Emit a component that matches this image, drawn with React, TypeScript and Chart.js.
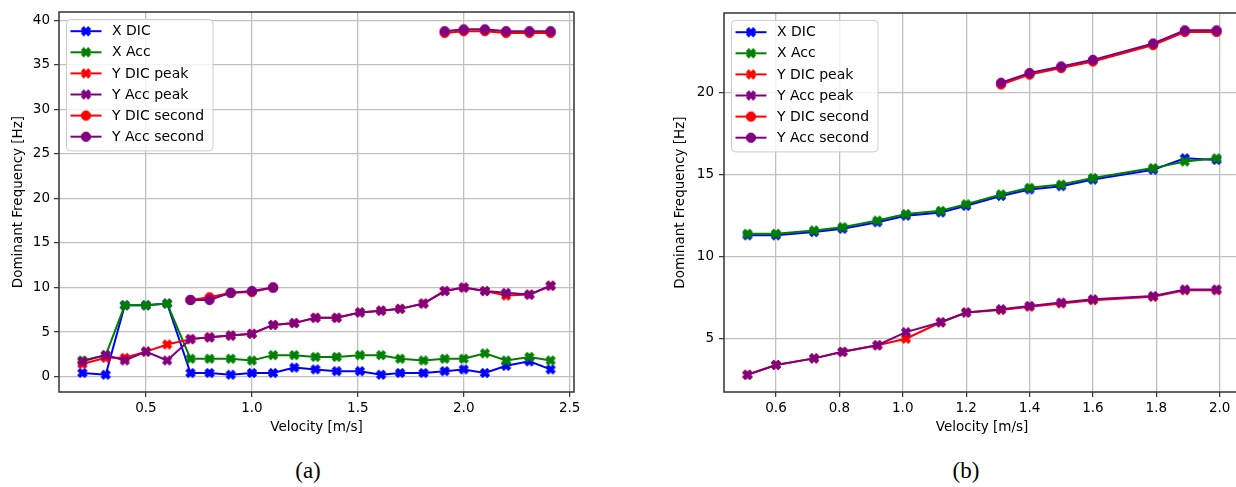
import React, { useEffect, useRef } from "react";
import { Chart, registerables } from "chart.js";

Chart.register(...registerables);

// ---------- (a) data ----------
const velocityA = [0.2, 0.31, 0.4, 0.5, 0.6, 0.71, 0.8, 0.9, 1.0, 1.1, 1.2, 1.3, 1.4, 1.51, 1.61, 1.7, 1.81, 1.91, 2.0, 2.1, 2.2, 2.31, 2.41];
const xDicA = [0.4, 0.2, 8.0, 8.0, 8.2, 0.4, 0.4, 0.2, 0.4, 0.4, 1.0, 0.8, 0.6, 0.6, 0.2, 0.4, 0.4, 0.6, 0.8, 0.4, 1.2, 1.7, 0.8];
const xAccA = [1.8, 2.4, 8.0, 8.0, 8.2, 2.0, 2.0, 2.0, 1.8, 2.4, 2.4, 2.2, 2.2, 2.4, 2.4, 2.0, 1.8, 2.0, 2.0, 2.6, 1.8, 2.2, 1.8];
const yDicPeakA = [1.4, 2.1, 2.1, 2.8, 3.6, 4.2, 4.4, 4.6, 4.8, 5.8, 6.0, 6.6, 6.6, 7.2, 7.4, 7.6, 8.2, 9.6, 10.0, 9.6, 9.1, 9.2, 10.2];
const yAccPeakA = [1.7, 2.4, 1.8, 2.8, 1.8, 4.2, 4.4, 4.6, 4.8, 5.8, 6.0, 6.6, 6.6, 7.2, 7.4, 7.6, 8.2, 9.6, 10.0, 9.6, 9.4, 9.2, 10.2];
const yDicSecondA = [null, null, null, null, null, 8.6, 8.9, 9.4, 9.5, 10.0, null, null, null, null, null, null, null, 38.6, 38.8, 38.8, 38.6, 38.6, 38.6];
const yAccSecondA = [null, null, null, null, null, 8.6, 8.6, 9.4, 9.6, 10.0, null, null, null, null, null, null, null, 38.8, 39.0, 39.0, 38.8, 38.8, 38.8];
const xTicksA = [0.5, 1.0, 1.5, 2.0, 2.5];
const yTicksA = [0, 5, 10, 15, 20, 25, 30, 35, 40];

// ---------- (b) data ----------
const velocityB = [0.51, 0.6, 0.72, 0.81, 0.92, 1.01, 1.12, 1.2, 1.31, 1.4, 1.5, 1.6, 1.79, 1.89, 1.99];
const xDicB = [11.3, 11.3, 11.5, 11.7, 12.1, 12.5, 12.7, 13.1, 13.7, 14.1, 14.3, 14.7, 15.3, 16.0, 15.9];
const xAccB = [11.4, 11.4, 11.6, 11.8, 12.2, 12.6, 12.8, 13.2, 13.8, 14.2, 14.4, 14.8, 15.4, 15.8, 16.0];
const yDicPeakB = [2.8, 3.4, 3.8, 4.2, 4.6, 5.0, 6.0, 6.6, 6.75, 6.95, 7.15, 7.35, 7.55, 7.95, 7.95];
const yAccPeakB = [2.8, 3.4, 3.8, 4.2, 4.6, 5.4, 6.0, 6.6, 6.8, 7.0, 7.2, 7.4, 7.6, 8.0, 8.0];
const yDicSecondB = [null, null, null, null, null, null, null, null, 20.5, 21.1, 21.5, 21.9, 22.9, 23.7, 23.7];
const yAccSecondB = [null, null, null, null, null, null, null, null, 20.6, 21.2, 21.6, 22.0, 23.0, 23.8, 23.8];
const xTicksB = [0.6, 0.8, 1.0, 1.2, 1.4, 1.6, 1.8, 2.0];
const yTicksB = [5, 10, 15, 20];

const seriesLabels = ["X DIC", "X Acc", "Y DIC peak", "Y Acc peak", "Y DIC second", "Y Acc second"];
const seriesColors = ["#0000ff", "#008000", "#ff0000", "#800080", "#ff0000", "#800080"];
const seriesMarkers = ["x", "x", "x", "x", "o", "o"];

const FONT = '"DejaVu Sans", sans-serif';

// filled "X" marker (same outline as matplotlib's 'X')
function makeXMarker(color: string): HTMLCanvasElement {
  const size = 14;
  const c = document.createElement("canvas");
  c.width = size;
  c.height = size;
  const ctx = c.getContext("2d")!;
  const ms = 8.8;
  const pts = [[-1, -2], [0, -1], [1, -2], [2, -1], [1, 0], [2, 1], [1, 2], [0, 1], [-1, 2], [-2, 1], [-1, 0], [-2, -1]];
  ctx.translate(size / 2, size / 2);
  ctx.beginPath();
  pts.forEach(([px, py], i) => {
    const x = (px / 4) * ms;
    const y = (py / 4) * ms;
    if (i === 0) ctx.moveTo(x, y);
    else ctx.lineTo(x, y);
  });
  ctx.closePath();
  ctx.fillStyle = color;
  ctx.fill();
  ctx.strokeStyle = color;
  ctx.lineWidth = 1.2;
  ctx.lineJoin = "round";
  ctx.stroke();
  return c;
}

function makeCircleMarker(color: string): HTMLCanvasElement {
  const size = 14;
  const c = document.createElement("canvas");
  c.width = size;
  c.height = size;
  const ctx = c.getContext("2d")!;
  ctx.beginPath();
  ctx.arc(size / 2, size / 2, 4.7, 0, Math.PI * 2);
  ctx.fillStyle = color;
  ctx.fill();
  ctx.strokeStyle = color;
  ctx.lineWidth = 1;
  ctx.stroke();
  return c;
}

function paddedRange(values: (number | null)[]): [number, number] {
  const v = values.filter((x): x is number => x !== null);
  const lo = Math.min(...v);
  const hi = Math.max(...v);
  const m = (hi - lo) * 0.05;
  return [lo - m, hi + m];
}

// frame (spines) and in-axes legend
const overlayPlugin = {
  id: "overlay",
  afterDraw(chart: any, _args: any, opts: any) {
    const { ctx, chartArea: a } = chart;
    ctx.save();
    ctx.strokeStyle = "#333333";
    ctx.lineWidth = 1.5;
    ctx.beginPath();
    ctx.moveTo(a.right, a.top);
    ctx.lineTo(a.left, a.top);
    ctx.lineTo(a.left, a.bottom);
    ctx.lineTo(a.right, a.bottom);
    if (opts.rightSpine) ctx.lineTo(a.right, a.top);
    ctx.stroke();

    const lx = a.left + 7.5;
    const ly = a.top + 7.3;
    const w = 146.5;
    const h = 131.5;
    const r = 4;
    ctx.beginPath();
    ctx.moveTo(lx + r, ly);
    ctx.lineTo(lx + w - r, ly);
    ctx.arcTo(lx + w, ly, lx + w, ly + r, r);
    ctx.lineTo(lx + w, ly + h - r);
    ctx.arcTo(lx + w, ly + h, lx + w - r, ly + h, r);
    ctx.lineTo(lx + r, ly + h);
    ctx.arcTo(lx, ly + h, lx, ly + h - r, r);
    ctx.lineTo(lx, ly + r);
    ctx.arcTo(lx, ly, lx + r, ly, r);
    ctx.closePath();
    ctx.fillStyle = "rgba(255,255,255,0.8)";
    ctx.fill();
    ctx.strokeStyle = "#cccccc";
    ctx.lineWidth = 1;
    ctx.stroke();

    const items = opts.items as { label: string; color: string; marker: HTMLCanvasElement }[];
    items.forEach((it, i) => {
      const cy = ly + 11.8 + i * 21.1;
      ctx.beginPath();
      ctx.moveTo(lx + 4, cy);
      ctx.lineTo(lx + 35, cy);
      ctx.strokeStyle = it.color;
      ctx.lineWidth = 2;
      ctx.stroke();
      ctx.drawImage(it.marker, lx + 19.5 - it.marker.width / 2, cy - it.marker.height / 2);
      ctx.fillStyle = "#000000";
      ctx.font = `14px ${FONT}`;
      ctx.textBaseline = "middle";
      ctx.textAlign = "left";
      ctx.fillText(it.label, lx + 45.5, cy + 0.5);
    });
    ctx.restore();
  },
};

type PanelProps = {
  left: number;
  width: number;
  height: number;
  plotLeft: number;
  plotRight: number;
  plotTop: number;
  plotBottom: number;
  yTitleCenter: number;
  yLabelPad: number;
  rightSpine: boolean;
  velocity: number[];
  values: (number | null)[][];
  xTicks: number[];
  yTicks: number[];
};

function Panel(p: PanelProps) {
  const ref = useRef<HTMLCanvasElement>(null);

  useEffect(() => {
    const canvas = ref.current!;
    const markers = seriesMarkers.map((m, i) =>
      m === "x" ? makeXMarker(seriesColors[i]) : makeCircleMarker(seriesColors[i])
    );
    const [xMin, xMax] = paddedRange(p.velocity);
    const [yMin, yMax] = paddedRange(p.values.flat());
    const n = p.values.length;
    const tickFont = { family: FONT, size: 13.5 };
    const lineH = 13.5 * 1.2;

    const chart = new Chart(canvas, {
      type: "line",
      data: {
        datasets: p.values.map((vals, i) => ({
          label: seriesLabels[i],
          data: p.velocity.map((x, j) => ({ x, y: vals[j] })),
          borderColor: seriesColors[i],
          backgroundColor: seriesColors[i],
          borderWidth: 2,
          pointStyle: markers[i],
          pointRadius: 5,
          pointHoverRadius: 5,
          tension: 0,
          spanGaps: false,
          order: n - i,
        })),
      },
      options: {
        animation: false,
        responsive: false,
        maintainAspectRatio: false,
        events: [],
        layout: {
          padding: { left: 0, top: p.plotTop, right: p.width - p.plotRight, bottom: 0 },
        },
        plugins: {
          legend: { display: false },
          tooltip: { enabled: false },
          overlay: {
            rightSpine: p.rightSpine,
            items: seriesLabels.map((label, i) => ({ label, color: seriesColors[i], marker: markers[i] })),
          },
        } as any,
        scales: {
          x: {
            type: "linear",
            min: xMin,
            max: xMax,
            afterFit: (s: any) => {
              s.height = p.height - p.plotBottom;
            },
            afterBuildTicks: (s: any) => {
              s.ticks = p.xTicks.map((v) => ({ value: v }));
            },
            ticks: {
              callback: (v: any) => Number(v).toFixed(1),
              font: tickFont,
              color: "#000000",
              padding: 3,
              maxRotation: 0,
              autoSkip: false,
            },
            grid: {
              color: "#c0c0c0",
              lineWidth: 1.3,
              drawTicks: true,
              tickLength: 5,
              tickColor: "#333333",
              tickWidth: 1.2,
            },
            border: { display: false },
            title: {
              display: true,
              text: "Velocity [m/s]",
              font: tickFont,
              color: "#000000",
              padding: { top: 0, bottom: 1 },
            },
          },
          y: {
            type: "linear",
            min: yMin,
            max: yMax,
            afterFit: (s: any) => {
              s.width = p.plotLeft;
            },
            afterBuildTicks: (s: any) => {
              s.ticks = p.yTicks.map((v) => ({ value: v }));
            },
            ticks: {
              callback: (v: any) => String(v),
              font: tickFont,
              color: "#000000",
              padding: p.yLabelPad,
              autoSkip: false,
            },
            grid: {
              color: "#c0c0c0",
              lineWidth: 1.3,
              drawTicks: true,
              tickLength: 5,
              tickColor: "#333333",
              tickWidth: 1.2,
            },
            border: { display: false },
            title: {
              display: true,
              text: "Dominant Frequency [Hz]",
              font: tickFont,
              color: "#000000",
              padding: { top: p.yTitleCenter - lineH / 2, bottom: 0 },
            },
          },
        },
      } as any,
      plugins: [overlayPlugin],
    });
    return () => chart.destroy();
  }, []);

  return (
    <canvas
      ref={ref}
      width={p.width}
      height={p.height}
      style={{ position: "absolute", left: p.left, top: 0, width: p.width, height: p.height }}
    />
  );
}

const captionStyle: React.CSSProperties = {
  position: "absolute",
  top: 458,
  width: 100,
  textAlign: "center",
  fontFamily: '"Liberation Serif", "DejaVu Serif", serif',
  fontSize: 23,
  lineHeight: "26px",
  color: "#000000",
};

export default function App() {
  return (
    <div
      style={{
        position: "fixed",
        left: 0,
        top: 0,
        width: 1236,
        height: 487,
        overflow: "hidden",
        background: "#ffffff",
      }}
    >
      <Panel
        left={0}
        width={600}
        height={437}
        plotLeft={59}
        plotRight={574}
        plotTop={7}
        plotBottom={392}
        yTitleCenter={18.5}
        yLabelPad={4}
        rightSpine={true}
        velocity={velocityA}
        values={[xDicA, xAccA, yDicPeakA, yAccPeakA, yDicSecondA, yAccSecondA]}
        xTicks={xTicksA}
        yTicks={yTicksA}
      />
      <Panel
        left={660}
        width={600}
        height={437}
        plotLeft={64}
        plotRight={580}
        plotTop={7}
        plotBottom={392}
        yTitleCenter={20}
        yLabelPad={5}
        rightSpine={false}
        velocity={velocityB}
        values={[xDicB, xAccB, yDicPeakB, yAccPeakB, yDicSecondB, yAccSecondB]}
        xTicks={xTicksB}
        yTicks={yTicksB}
      />
      <div style={{ ...captionStyle, left: 258 }}>(a)</div>
      <div style={{ ...captionStyle, left: 916 }}>(b)</div>
    </div>
  );
}
